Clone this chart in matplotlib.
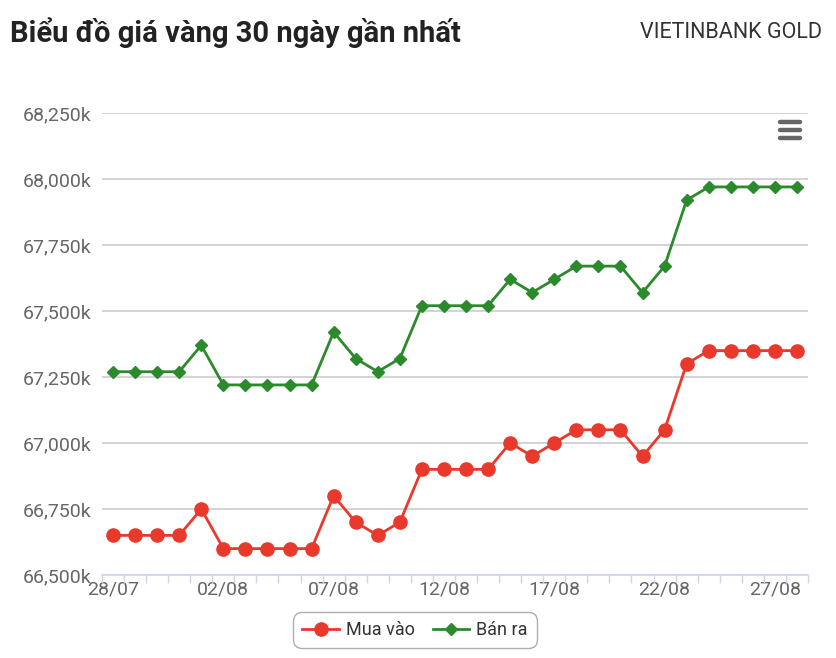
import numpy as np
import matplotlib.pyplot as plt
from matplotlib.lines import Line2D

plt.rcParams['font.family'] = ['Roboto', 'DejaVu Sans']

#%% Data
days = ['28/07', '29/07', '30/07', '31/07', '01/08', '02/08', '03/08', '04/08',
        '05/08', '06/08', '07/08', '08/08', '09/08', '10/08', '11/08', '12/08',
        '13/08', '14/08', '15/08', '16/08', '17/08', '18/08', '19/08', '20/08',
        '21/08', '22/08', '23/08', '24/08', '25/08', '26/08', '27/08', '28/08']
mua_vao = [66650, 66650, 66650, 66650, 66750, 66600, 66600, 66600,
           66600, 66600, 66800, 66700, 66650, 66700, 66900, 66900,
           66900, 66900, 67000, 66950, 67000, 67050, 67050, 67050,
           66950, 67050, 67300, 67350, 67350, 67350, 67350, 67350]
ban_ra = [67270, 67270, 67270, 67270, 67370, 67220, 67220, 67220,
          67220, 67220, 67420, 67320, 67270, 67320, 67520, 67520,
          67520, 67520, 67620, 67570, 67620, 67670, 67670, 67670,
          67570, 67670, 67920, 67970, 67970, 67970, 67970, 67970]
y_ticks = [66500, 66750, 67000, 67250, 67500, 67750, 68000, 68250]

red = '#e8392c'
green = '#2b8a2b'

#%% Plot
fig = plt.figure(figsize=(8.37, 6.58), dpi=100)
fig.patch.set_facecolor('white')
ax = fig.add_axes([102/837, 83/658, 706/837, 462/658])

x = np.arange(len(days))
ax.plot(x, mua_vao, color=red, lw=2, marker='o', ms=9.5, label='Mua vào', zorder=3)
ax.plot(x, ban_ra, color=green, lw=2, marker='D', ms=6.5, label='Bán ra', zorder=3)

ax.set_xlim(-0.5, len(days) - 0.5)
ax.set_ylim(66500, 68250)
ax.set_yticks(y_ticks)
ax.set_yticklabels([f'{v:,}k' for v in y_ticks], color='#666666', fontsize=14)
ax.yaxis.grid(True, color='#cccccc', lw=1.2)
ax.set_axisbelow(True)
ax.tick_params(axis='y', length=0, pad=7.5)

# category ticks between points, labels every 5 days
ax.set_xticks(x[::5])
ax.set_xticklabels(days[::5], color='#666666', fontsize=14)
ax.set_xticks(np.arange(len(days) + 1) - 0.5, minor=True)
ax.tick_params(axis='x', which='major', length=0, pad=4)
ax.tick_params(axis='x', which='minor', length=5.5, color='#ccd6eb', width=1)

for s in ['top', 'right', 'left']:
    ax.spines[s].set_visible(False)
ax.spines['bottom'].set_color('#ccd6eb')
ax.spines['bottom'].set_linewidth(1.2)

# titles
fig.text(10/837, 1 - 33/658, 'Biểu đồ giá vàng 30 ngày gần nhất', fontsize=21,
         fontweight='bold', color='#222222', va='center', ha='left')
fig.text(822/837, 1 - 33/658, 'VIETINBANK GOLD', fontsize=15.5,
         color='#333333', va='center', ha='right')

# menu icon
for yy in [122, 130, 138]:
    fig.add_artist(Line2D([780/837, 800/837], [1 - yy/658] * 2, color='#666666',
                          lw=3.2, solid_capstyle='round'))

leg = fig.legend(loc='center', bbox_to_anchor=(415/837, 1 - 630/658), ncol=2,
                 frameon=True, fontsize=13, handlelength=2, columnspacing=1,
                 handletextpad=0.4, borderpad=0.3, labelcolor='#333333')
leg.get_frame().set_edgecolor('#999999')
leg.get_frame().set_linewidth(1)
leg.get_frame().set_boxstyle('round,pad=0.2,rounding_size=0.5')

fig.savefig('out.png', dpi=100)
